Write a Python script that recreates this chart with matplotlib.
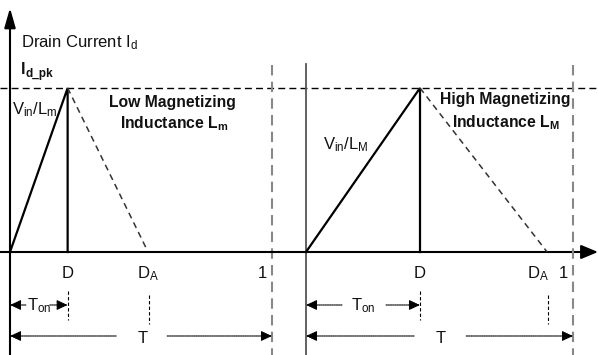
import matplotlib
matplotlib.use('Agg')
import matplotlib.pyplot as plt

plt.rcParams['font.family'] = ['Liberation Sans', 'DejaVu Sans']
plt.rcParams['mathtext.fontset'] = 'custom'
plt.rcParams['mathtext.rm'] = 'Liberation Sans'
plt.rcParams['mathtext.it'] = 'Liberation Sans:italic'
plt.rcParams['mathtext.bf'] = 'Liberation Sans:bold'

# data (period normalised to 1, peak current normalised to 1)
panels = ['low', 'high']
duty = [0.22, 0.427]        # D
duty_a = [0.527, 0.903]     # D_A
peak = 1.0
slope_labels = [r'V$_\mathrm{in}$/L$_\mathrm{m}$', r'V$_\mathrm{in}$/L$_\mathrm{M}$']
titles = [('Low Magnetizing', r'Inductance L$_\mathbf{m}$'),
          ('High Magnetizing', r'Inductance L$_\mathbf{M}$')]
tick_labels = ['D', r'D$_\mathrm{A}$', '1']

W, H = 598, 355
fig = plt.figure(figsize=(W / 100, H / 100), dpi=100)

# panel layout in pixels: origin x, width of one period; axis y and peak y
x0s = [10, 306]
widths = [262, 267]
y_axis, y_peak = 252, 88
unit = y_axis - y_peak
fs = 12
txt = '#111111'

axes = []
for x0, w in zip(x0s, widths):
    ax = fig.add_axes([x0 / W, (H - y_axis) / H, w / W, unit / H])
    ax.set_xlim(0, 1)
    ax.set_ylim(0, peak)
    ax.axis('off')
    axes.append(ax)


def yv(py):
    return (y_axis - py) / unit


def fig_text(px, py, s, **kw):
    fig.text(px / W, 1 - py / H, s, **kw)


# left y axis with arrow, long x axis with arrow, peak line
axl = axes[0]
x_left = -x0s[0] / widths[0]
x_right = (W - x0s[0]) / widths[0]
axl.annotate('', xy=(0, yv(8)), xytext=(0, yv(H + 2)), annotation_clip=False,
             arrowprops=dict(arrowstyle='-|>,head_length=0.7,head_width=0.2',
                             mutation_scale=17, lw=1.5, color='black',
                             shrinkA=0, shrinkB=0))
axl.annotate('', xy=(x_right, 0), xytext=(x_left, 0), annotation_clip=False,
             arrowprops=dict(arrowstyle='-|>,head_length=0.6,head_width=0.25',
                             mutation_scale=17, lw=1.5, color='black',
                             shrinkA=0, shrinkB=0))
axl.plot([x_left, x_right], [peak, peak], color='black', lw=1.0,
         dashes=(5, 3), clip_on=False)

# second y axis
axes[1].plot([0, 0], [yv(64), yv(H + 2)], color='#555555', lw=1.3, clip_on=False)

fig_text(21, 47, r'Drain Current I$_\mathrm{d}$', fontsize=fs, color=txt)
fig_text(21, 74, 'I', fontsize=11.5, fontweight='bold', color=txt)
fig_text(26, 77, 'd_pk', fontsize=8.5, fontweight='bold', color=txt)

slope_pos = [(12, 114), (323, 149)]
title_pos = [(172, 107, 174, 128), (505, 104, 506, 127)]
gaps_on = [(13, 11), (21, 23)]

for i, ax in enumerate(axes):
    d, da = duty[i], duty_a[i]
    ax.plot([0, d, d], [0, peak, 0], color='black', lw=1.6, clip_on=False,
            solid_joinstyle='miter')
    ax.plot([d, da], [peak, 0], color='#333333', lw=1.1, dashes=(4, 3),
            clip_on=False)
    ax.plot([1, 1], [yv(65), yv(H + 2)], color='#888888', lw=1.5,
            dashes=(5, 3), clip_on=False)

    # tick labels
    ax.text(d, yv(278), tick_labels[0], ha='center', va='baseline',
            fontsize=fs, color=txt)
    if i == 0:
        ax.text(da, yv(278), tick_labels[1], ha='center', va='baseline',
                fontsize=fs, color=txt)
    else:
        ax.text(da + 0.008, yv(278), tick_labels[1], ha='right', va='baseline',
                fontsize=fs, color=txt)
    ax.text(0.98, yv(278), tick_labels[2], ha='right', va='baseline',
            fontsize=fs, color=txt)

    # small dashed markers
    ax.plot([d, d], [yv(291), yv(320)], color='black', lw=0.8, dashes=(3, 2),
            clip_on=False)
    ax.plot([da + 0.005, da + 0.005], [yv(295), yv(324)], color='black', lw=0.8,
            dashes=(3, 2), clip_on=False)

    # labels
    sx, sy = slope_pos[i]
    fig_text(sx, sy, slope_labels[i], fontsize=fs, color=txt)
    tx1, ty1, tx2, ty2 = title_pos[i]
    fig_text(tx1, ty1, titles[i][0], fontsize=11.3, fontweight='bold',
             ha='center', color=txt)
    fig_text(tx2, ty2, titles[i][1], fontsize=11.3, fontweight='bold',
             ha='center', color=txt)

    # T_on and T dimension arrows
    w = widths[i]
    arrow = dict(arrowstyle='-|>,head_length=0.6,head_width=0.28',
                 mutation_scale=11, lw=0.8, color='black',
                 linestyle=(0, (1.2, 0.8)), shrinkA=0, shrinkB=0)
    y_on = yv(305)
    mid = d / 2
    gl, gr = gaps_on[i]
    ax.annotate('', xy=(0, y_on), xytext=(mid - gl / w, y_on),
                annotation_clip=False, arrowprops=arrow)
    ax.annotate('', xy=(d, y_on), xytext=(mid + gr / w, y_on),
                annotation_clip=False, arrowprops=arrow)
    ax.text(mid, yv(310), r'T$_\mathrm{on}$', ha='center', va='baseline',
            fontsize=fs, color=txt)

    y_t = yv(336)
    ax.annotate('', xy=(0, y_t), xytext=(0.405, y_t),
                annotation_clip=False, arrowprops=arrow)
    ax.annotate('', xy=(1, y_t), xytext=(0.6, y_t),
                annotation_clip=False, arrowprops=arrow)
    ax.text(0.505, yv(343), 'T', ha='center', va='baseline', fontsize=fs,
            color=txt)

fig.savefig('out.png', dpi=100)
